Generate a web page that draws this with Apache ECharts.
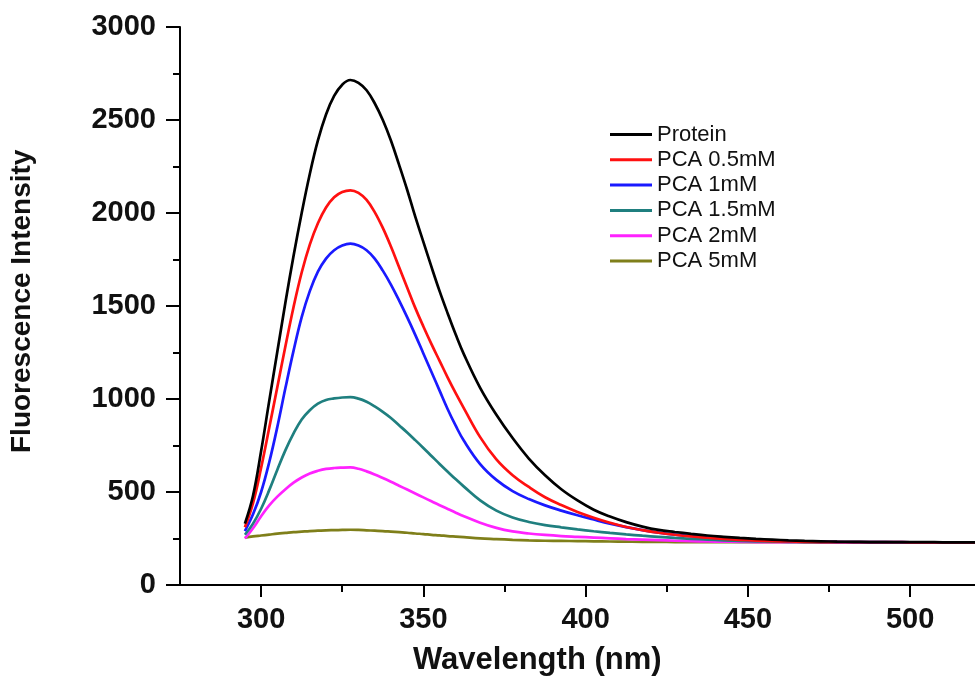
<!DOCTYPE html>
<html>
<head>
<meta charset="utf-8">
<script src="https://cdn.jsdelivr.net/npm/echarts@6/dist/echarts.min.js"></script>
<style>
html,body{margin:0;padding:0;background:#ffffff;}
#chart{width:975px;height:684px;}
</style>
</head>
<body>
<div id="chart"></div>
<script>
const wavelengths = [295,297.5,300,302.5,305,307.5,310,312.5,315,317.5,320,322.5,325,327.5,330,332.5,335,337.5,340,342.5,345,347.5,350,352.5,355,357.5,360,362.5,
  367.5,372.5,377.5,382.5,387.5,392.5,397.5,402.5,407.5,412.5,417.5,422.5,427.5,432.5,437.5,442.5,447.5,452.5,457.5,462.5,467.5,472.5,477.5,482.5,487.5,492.5,497.5,502.5,507.5,512.5,517.5,520];
const protein = [330,480,720,990,1255,1520,1770,2000,2210,2390,2530,2630,2690,2715,2700,2660,2590,2500,2390,2260,2125,1980,1845,1710,1580,1460,1345,1240,
  1060,915,790,680,590,515,455,405,368,338,314,296,285,275,266,259,253,248,244,240,237,235,233,232,231,231,230,230,230,229,229,229];
const pca05 = [310,440,630,845,1065,1285,1495,1680,1830,1945,2030,2085,2113,2122,2108,2070,2005,1920,1820,1710,1600,1490,1390,1295,1205,1115,1030,950,
  795,675,590,527,472,430,393,362,335,312,295,281,270,261,254,248,243,239,236,234,232,231,231,230,230,230,230,229,229,229,229,229];
const pca1 = [290,380,500,660,850,1060,1260,1440,1580,1685,1755,1800,1825,1835,1825,1800,1755,1690,1615,1530,1440,1345,1245,1145,1045,945,855,775,
  650,565,505,462,428,400,375,352,330,311,295,282,271,263,256,250,245,241,238,235,233,232,231,230,230,230,230,229,229,229,229,229];
const pca15 = [270,330,410,510,620,725,815,890,940,975,995,1003,1008,1010,1002,985,960,931,898,859,820,779,737,694,651,609,568,529,
  455,400,363,339,322,310,299,289,280,272,265,259,253,248,244,240,237,235,233,232,231,230,230,230,230,230,229,229,229,229,229,229];
const pca2 = [250,305,370,428,475,515,550,578,600,614,624,629,631,632,625,611,594,575,555,534,513,492,471,450,429,409,389,370,
  335,307,288,277,269,263,259,255,251,247,244,241,238,236,234,233,232,231,230,230,230,230,230,229,229,229,229,229,229,229,229,229];
const pca5 = [255,261,266,271,276,280,284,287,290,292,294,295,296,297,296,294,292,290,287,284,281,277,274,270,267,263,260,257,
  251,247,243,240,238,237,236,235,234,233,232,232,231,231,230,230,230,230,230,230,230,230,230,229,229,229,229,229,229,229,229,229];

const seriesNames = ['Protein','PCA 0.5mM','PCA 1mM','PCA 1.5mM','PCA 2mM','PCA 5mM'];
const seriesValues = [protein,pca05,pca1,pca15,pca2,pca5];
const seriesColors = ['#000000','#ff1010','#1a1aff','#1f7f7f','#ff22ff','#7f7f1a'];
const xMajorTicks = [300,350,400,450,500];
const xMinorTicks = [325,375,425,475];

const chart = echarts.init(document.getElementById('chart'));
const font = '"Liberation Sans", Arial, Helvetica, sans-serif';

const series = seriesNames.map((name,i)=>({
  name: name,
  type: 'line',
  xAxisIndex: 0,
  yAxisIndex: 0,
  data: wavelengths.map((w,j)=>[w, seriesValues[i][j]]),
  smooth: 0.4,
  showSymbol: false,
  symbol: 'none',
  lineStyle: {color: seriesColors[i], width: 2.7},
  itemStyle: {color: seriesColors[i]},
  z: 10 - i
}));

chart.setOption({
  backgroundColor: '#ffffff',
  animation: false,
  grid: {left: 180, top: 27, width: 801, height: 558, containLabel: false},
  legend: {
    orient: 'vertical',
    left: 610,
    top: 122,
    padding: 0,
    itemGap: 0.3,
    itemWidth: 42,
    itemHeight: 3,
    icon: 'rect',
    data: seriesNames,
    textStyle: {fontFamily: font, fontSize: 22, color: '#111', lineHeight: 25}
  },
  xAxis: [
    {
      type: 'value', min: 275, max: 520, position: 'bottom',
      axisLine: {show: true, onZero: false, lineStyle: {color: '#000', width: 2}},
      axisTick: {show: true, length: 12, customValues: xMajorTicks, lineStyle: {color: '#000', width: 2}},
      axisLabel: {show: true, customValues: xMajorTicks, margin: 20, fontFamily: font, fontWeight: 'bold', fontSize: 29, color: '#111'},
      splitLine: {show: false}
    },
    {
      type: 'value', min: 275, max: 520, position: 'bottom',
      axisLine: {show: false, onZero: false},
      axisTick: {show: true, length: 7, customValues: xMinorTicks, lineStyle: {color: '#000', width: 2}},
      axisLabel: {show: false},
      splitLine: {show: false}
    }
  ],
  yAxis: {
    type: 'value', min: 0, max: 3000, interval: 500,
    axisLine: {show: true, onZero: false, lineStyle: {color: '#000', width: 2}},
    axisTick: {show: true, length: 14, lineStyle: {color: '#000', width: 2}},
    minorTick: {show: true, splitNumber: 2, length: 7, lineStyle: {color: '#000', width: 2}},
    axisLabel: {margin: 24, fontFamily: font, fontWeight: 'bold', fontSize: 29, color: '#111', formatter: v => String(v)},
    splitLine: {show: false},
    minorSplitLine: {show: false}
  },
  graphic: [
    {
      type: 'text', left: 413, top: 645,
      style: {text: 'Wavelength (nm)', fontFamily: font, fontWeight: 'bold', fontSize: 31, fill: '#111'}
    },
    {
      type: 'text', x: 8, y: 453, rotation: Math.PI / 2,
      style: {text: 'Fluorescence Intensity', fontFamily: font, fontWeight: 'bold', fontSize: 28, fill: '#111', textAlign: 'left', textVerticalAlign: 'top'}
    }
  ],
  series: series
});
</script>
</body>
</html>
